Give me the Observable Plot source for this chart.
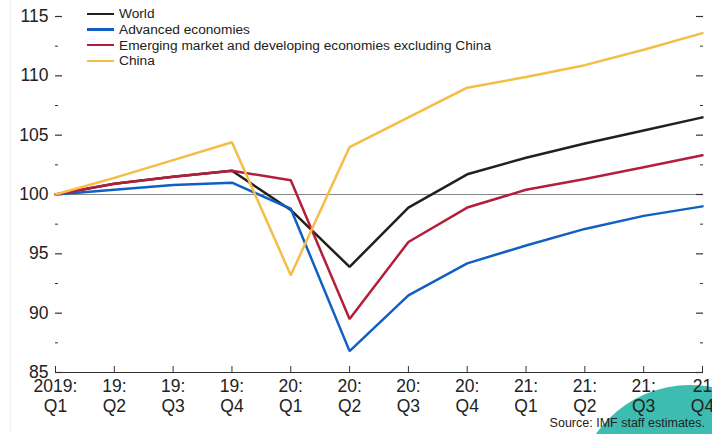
<!DOCTYPE html>
<html><head><meta charset="utf-8">
<script src="https://cdn.jsdelivr.net/npm/d3@7"></script>
<script src="https://cdn.jsdelivr.net/npm/@observablehq/plot@0.6"></script>
<style>
body{margin:0;background:#fff;font-family:"Liberation Sans",Arial,sans-serif;}
#wrap{position:relative;width:712px;height:434px;overflow:hidden;}
#blob{position:absolute;left:575px;top:385px;width:230px;height:230px;border-radius:50%;background:#3dbdb1;}
#edge{position:absolute;left:10px;top:0;width:1px;height:434px;background:#f0f0f0;}
#chart{position:absolute;left:0;top:0;}
#legend{position:absolute;left:87px;top:6px;font-size:13.7px;color:#222;}
#legend .row{display:flex;align-items:center;height:15.7px;}
#legend .sw{width:27px;height:2.5px;margin-right:5px;}
#source{position:absolute;right:7px;top:416px;font-size:12.5px;color:#222;}
</style></head>
<body>
<div id="wrap"><div id="blob"></div><div id="edge"></div><div id="chart"></div><div id="legend"></div><div id="source">Source: IMF staff estimates.</div></div>
<script>
const quarters = ["2019:\nQ1","19:\nQ2","19:\nQ3","19:\nQ4","20:\nQ1","20:\nQ2","20:\nQ3","20:\nQ4","21:\nQ1","21:\nQ2","21:\nQ3","21\nQ4"];
const seriesNames = ["World","Advanced economies","Emerging market and developing economies excluding China","China"];
const seriesColors = ["#231f20","#1060c4","#b31f3b","#f4bd45"];
const world    = [100,100.9,101.5,102.0,98.7,93.9,98.9,101.7,103.1,104.3,105.4,106.5];
const advanced = [100,100.4,100.8,101.0,98.8,86.8,91.5,94.2,95.7,97.1,98.2,99.0];
const emerging = [100,100.9,101.5,102.0,101.2,89.5,96.0,98.9,100.4,101.3,102.3,103.3];
const china    = [100,101.4,102.9,104.4,93.2,104.0,106.5,109.0,109.9,110.9,112.2,113.6];
const majorTicks = [85,90,95,100,105,110,115];
const minorTicks = [87.5,92.5,97.5,102.5,107.5,112.5];

const allSeries = [world, advanced, emerging, china];
const data = allSeries.flatMap((vals, s) => vals.map((v, i) => ({i, v, s: seriesNames[s]})));
const xIdx = quarters.map((q, i) => i);
const blank = () => "";

const plot = Plot.plot({
  width: 712, height: 434,
  marginLeft: 55, marginRight: 10, marginTop: 16, marginBottom: 62,
  style: {background: "transparent", fontFamily: "'Liberation Sans', Arial, sans-serif", fontSize: "17.5px", color: "#222"},
  x: {type: "linear", domain: [0, quarters.length - 1], range: [55, 702], inset: 0},
  y: {domain: [85, 115], range: [372, 16], inset: 0},
  color: {domain: seriesNames, range: seriesColors},
  marks: [
    Plot.ruleY([100], {stroke: "#888", strokeWidth: 1}),
    Plot.axisY(majorTicks, {anchor: "left", tickSize: -7, tickPadding: 14, label: null, stroke: "#333", strokeWidth: 1.2}),
    Plot.axisY(minorTicks, {anchor: "left", tickSize: -3, tickFormat: blank, label: null, stroke: "#333"}),
    Plot.axisY(majorTicks, {anchor: "right", tickSize: -7, tickFormat: blank, label: null, stroke: "#333", strokeWidth: 1.2}),
    Plot.axisY(minorTicks, {anchor: "right", tickSize: -3, tickFormat: blank, label: null, stroke: "#333"}),
    Plot.axisX(xIdx, {tickSize: -6, tickPadding: 11, tickFormat: i => quarters[i], label: null, stroke: "#333", lineHeight: 1.15}),
    Plot.ruleY([85], {stroke: "#333", strokeWidth: 1.2}),
    Plot.line(data, {x: "i", y: "v", z: "s", stroke: "s", strokeWidth: 2.5, strokeLinejoin: "miter"})
  ]
});
document.getElementById("chart").appendChild(plot);

const leg = document.getElementById("legend");
seriesNames.forEach((n, i) => {
  const r = document.createElement("div"); r.className = "row";
  const sw = document.createElement("div"); sw.className = "sw"; sw.style.background = seriesColors[i];
  const t = document.createElement("span"); t.textContent = n;
  r.appendChild(sw); r.appendChild(t); leg.appendChild(r);
});
</script>
</body></html>
